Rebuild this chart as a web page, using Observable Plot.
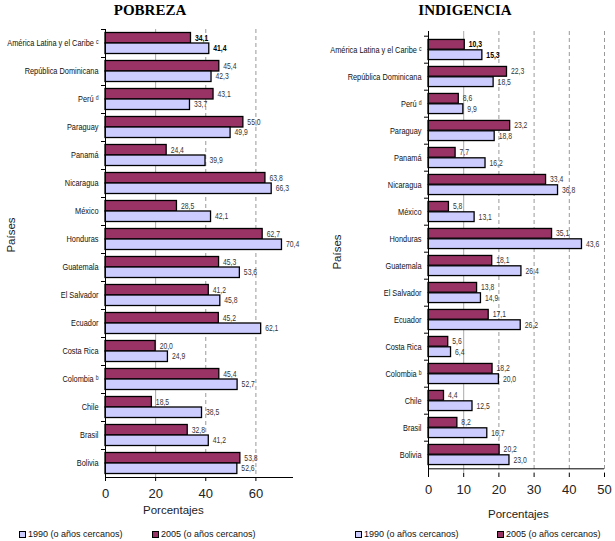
<!DOCTYPE html>
<html><head><meta charset="utf-8">
<script src="https://cdn.jsdelivr.net/npm/d3@7"></script>
<script src="https://cdn.jsdelivr.net/npm/@observablehq/plot@0.6"></script>
<style>
body{margin:0;background:#fff;}
#root{position:relative;width:615px;height:541px;font-family:'Liberation Sans',Arial,sans-serif;overflow:hidden;background:#fff}
#root svg{position:absolute;top:0;background:transparent}
.title{position:absolute;top:0;font-family:'Liberation Serif','Times New Roman',serif;font-weight:bold;font-size:15px;transform:translateX(-50%);white-space:nowrap;line-height:20px;color:#000}
.axlab{position:absolute;font-size:11.5px;color:#222;white-space:nowrap;line-height:14px}
.vlab{position:absolute;font-size:11.5px;color:#222;white-space:nowrap;line-height:14px;transform:translate(-50%,-50%) rotate(-90deg)}
.leg{position:absolute;font-size:9px;white-space:nowrap;display:flex;align-items:center;line-height:10px;color:#111}
.sw{display:inline-block;width:5px;height:5px;border:1px solid #000;margin-right:2px}
</style></head>
<body><div id="root"></div>
<script>
const countries = ["América Latina y el Caribe","República Dominicana","Perú","Paraguay","Panamá","Nicaragua","México","Honduras","Guatemala","El Salvador","Ecuador","Costa Rica","Colombia","Chile","Brasil","Bolivia"];
const notes = ["ᶜ","","ᵈ","","","","","","","","","","ᵇ","","",""];
const pobreza1990 = [41.4,42.3,33.7,49.9,39.9,66.3,42.1,70.4,53.6,45.8,62.1,24.9,52.7,38.5,41.2,52.6];
const pobreza2005 = [34.1,45.4,43.1,55.0,24.4,63.8,28.5,62.7,45.3,41.2,45.2,20.0,45.4,18.5,32.8,53.8];
const indigencia1990 = [15.3,18.5,9.9,18.8,16.2,36.8,13.1,43.6,26.4,14.9,26.2,6.4,20.0,12.5,16.7,23.0];
const indigencia2005 = [10.3,22.3,8.6,23.2,7.7,33.4,5.8,35.1,18.1,13.8,17.1,5.6,18.2,4.4,8.2,20.2];
const pobrezaTicks = [0,20,40,60];
const indigenciaTicks = [0,10,20,30,40,50];
const seriesLabels = ["1990 (o años cercanos)","2005 (o años cercanos)"];
const color1990 = "#ccccff", color2005 = "#993366";

const narrowFamily = "'Liberation Sans', Arial, narrowtext";
const fmt = d => d.toFixed(1).replace(".", ",");
const noteMap = new Map(countries.map((c, i) => [c, notes[i]]));
const countryLabel = c => noteMap.get(c) ? c + " " + noteMap.get(c) : c;

function panel({v1990, v2005, ticks, domain, width, height, mL, mR, mT, mB}) {
  const rows = countries.map((c, i) => ({country: c, v1990: v1990[i], v2005: v2005[i], bold: i === 0}));
  const band = (height - mT - mB) / countries.length;
  const half = band / 2, pad = band * 0.125;
  const off = (half - pad) / 2;
  const grid = ticks.slice(1);
  const textOpts = {fontSize: 8.3, fontFamily: narrowFamily, fill: "#333", textAnchor: "start", dx: 4};
  return Plot.plot({
    width, height, marginLeft: mL, marginRight: mR, marginTop: mT, marginBottom: mB,
    style: {background: "transparent", overflow: "visible", fontFamily: "'Liberation Sans', Arial, sans-serif"},
    x: {domain},
    y: {domain: countries, padding: 0},
    marks: [
      Plot.ruleX(grid.slice(0, 1), {stroke: "#aaa", strokeWidth: 1}),
      Plot.ruleX(grid.slice(1), {stroke: "#999", strokeWidth: 1, strokeDasharray: "4,3"}),
      Plot.barX(rows, {x: "v2005", y: "country", fill: color2005, stroke: "#000", strokeWidth: 1.3, insetTop: pad, insetBottom: half}),
      Plot.barX(rows, {x: "v1990", y: "country", fill: color1990, stroke: "#000", strokeWidth: 1.3, insetTop: half, insetBottom: pad}),
      Plot.text(rows.filter(d => !d.bold), {...textOpts, x: "v2005", y: "country", text: d => fmt(d.v2005), dy: -off}),
      Plot.text(rows.filter(d => !d.bold), {...textOpts, x: "v1990", y: "country", text: d => fmt(d.v1990), dy: off}),
      Plot.text(rows.filter(d => d.bold), {...textOpts, x: "v2005", y: "country", text: d => fmt(d.v2005), dy: -off, fontWeight: "bold", fill: "#000"}),
      Plot.text(rows.filter(d => d.bold), {...textOpts, x: "v1990", y: "country", text: d => fmt(d.v1990), dy: off, fontWeight: "bold", fill: "#000"}),
      Plot.ruleX([0], {stroke: "#000", strokeWidth: 1}),
      Plot.ruleY(countries.slice(-1), {stroke: "#000", strokeWidth: 1, dy: half}),
      Plot.ruleY(countries, {y: d => d, x1: 0, x2: 0, insetLeft: -4, dy: -half, stroke: "#000"}),
      Plot.axisX({ticks, tickSize: 4, tickPadding: 7, fontSize: 13, label: null, fill: "#222", stroke: "#000", tickFormat: d => d}),
      Plot.axisY({tickSize: 0, tickPadding: 7, fontSize: 9, fontFamily: narrowFamily, label: null, fill: "#111", tickFormat: countryLabel})
    ]
  });
}

function finish(svg) {
  svg.querySelectorAll("text").forEach(t => {
    const g = t.closest("[font-family]");
    if (!g || !g.getAttribute("font-family").includes("narrowtext")) return;
    // emulate a narrow face (Arial Narrow ≈ 82% width)
    const w = t.getComputedTextLength();
    if (w > 0) {
      t.setAttribute("textLength", (w * 0.82).toFixed(2));
      t.setAttribute("lengthAdjust", "spacingAndGlyphs");
    }
  });
}

const root = document.getElementById("root");
const left = panel({v1990: pobreza1990, v2005: pobreza2005, ticks: pobrezaTicks, domain: [0, 75], width: 305, height: 541, mL: 105, mR: 12, mT: 29, mB: 64});
left.style.left = "0px";
const right = panel({v1990: indigencia1990, v2005: indigencia2005, ticks: indigenciaTicks, domain: [0, 50], width: 310, height: 541, mL: 123, mR: 11, mT: 31, mB: 68});
right.style.left = "305px";
root.appendChild(left);
root.appendChild(right);
finish(left); finish(right);

function add(cls, html, css){
  const d = document.createElement("div");
  d.className = cls; d.innerHTML = html; Object.assign(d.style, css);
  root.appendChild(d); return d;
}
add("title", "POBREZA", {left: "150px"});
add("title", "INDIGENCIA", {left: "465px"});
add("axlab", "Porcentajes", {left: "143px", top: "503px"});
add("axlab", "Porcentajes", {left: "488px", top: "507px"});
add("vlab", "Países", {left: "11px", top: "235px"});
add("vlab", "Países", {left: "337px", top: "252px"});
const legPos = [[19, 152], [355, 497]];
legPos.forEach(([a, b]) => {
  add("leg", `<span class="sw" style="background:${color1990}"></span>${seriesLabels[0]}`, {left: a + "px", top: "529px"});
  add("leg", `<span class="sw" style="background:${color2005}"></span>${seriesLabels[1]}`, {left: b + "px", top: "529px"});
});
</script></body></html>
